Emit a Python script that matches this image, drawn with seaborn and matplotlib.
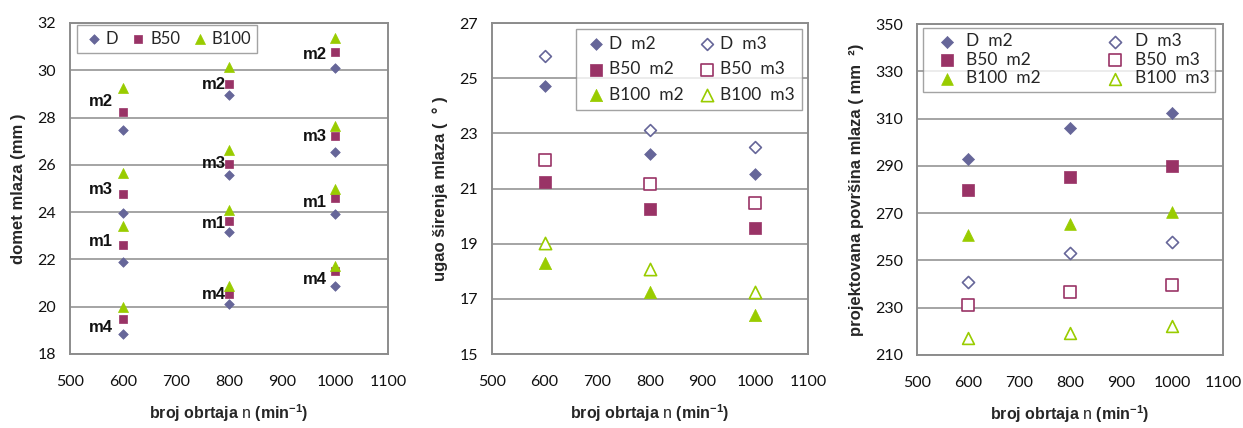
import numpy as np
import pandas as pd
import matplotlib
matplotlib.use("Agg")
import matplotlib.pyplot as plt
import seaborn as sns

# ---------------- data ----------------
n = [600, 800, 1000]
modes = ["m1", "m2", "m3", "m4"]

# domet mlaza (mm) for each mode at n = 600, 800, 1000
domet_D = {"m1": [21.9, 23.14, 23.92], "m2": [27.47, 28.95, 30.08],
           "m3": [23.95, 25.57, 26.53], "m4": [18.83, 20.13, 20.89]}
domet_B50 = {"m1": [22.6, 23.62, 24.58], "m2": [28.25, 29.43, 30.79],
             "m3": [24.75, 26.05, 27.23], "m4": [19.48, 20.52, 21.51]}
domet_B100 = {"m1": [23.42, 24.09, 25.0], "m2": [29.26, 30.12, 31.35],
              "m3": [25.64, 26.63, 27.64], "m4": [20.0, 20.87, 21.72]}
# mode-label text heights (mm) beside each group
label_y = {"m1": [22.74, 23.5, 24.39], "m2": [28.66, 29.38, 30.65],
           "m3": [24.94, 26.04, 27.18], "m4": [19.1, 20.5, 21.17]}

# ugao sirenja mlaza (deg)
ugao_D_m2 = [24.72, 22.24, 21.54]
ugao_D_m3 = [25.8, 23.12, 22.51]
ugao_B50_m2 = [21.23, 20.27, 19.56]
ugao_B50_m3 = [22.04, 21.15, 20.49]
ugao_B100_m2 = [18.29, 17.25, 16.4]
ugao_B100_m3 = [19.04, 18.07, 17.26]

# projektovana povrsina mlaza (mm2)
pov_D_m2 = [292.8, 305.9, 312.3]
pov_D_m3 = [240.7, 253.1, 257.8]
pov_B50_m2 = [279.9, 285.1, 290.0]
pov_B50_m3 = [231.3, 236.5, 239.5]
pov_B100_m2 = [260.9, 265.5, 270.3]
pov_B100_m3 = [217.2, 219.3, 222.1]

# ---------------- style ----------------
sns.set_theme(style="white")
plt.rcParams["font.family"] = ["Lato", "DejaVu Sans"]
plt.rcParams["mathtext.fontset"] = "custom"
plt.rcParams["mathtext.rm"] = "Liberation Sans"
plt.rcParams["mathtext.bf"] = "Liberation Sans:bold"

C_D = "#666699"
C_B50 = "#993366"
C_B100 = "#99CC00"
GRAY = "#8c8c8c"

fig = plt.figure(figsize=(12.43, 4.28), dpi=100)
axL = fig.add_axes([70 / 1243, 74 / 428, 318 / 1243, 331 / 428])
axM = fig.add_axes([492 / 1243, 74 / 428, 316 / 1243, 331 / 428])
axR = fig.add_axes([917 / 1243, 73 / 428, 306 / 1243, 331 / 428])

xlabel = r"broj obrtaja $\mathrm{n}$ (min$^{\mathbf{-1}}$)"


def style_axes(ax, ylim, yticks, ylabel):
    ax.set_xlim(500, 1100)
    ax.set_xticks([500, 600, 700, 800, 900, 1000, 1100])
    ax.set_ylim(*ylim)
    ax.set_yticks(yticks)
    ax.yaxis.grid(True, color=GRAY, lw=1.1)
    ax.xaxis.grid(False)
    ax.set_axisbelow(True)
    for s in ax.spines.values():
        s.set_color(GRAY)
        s.set_linewidth(1.4)
    ax.tick_params(axis="x", direction="in", length=4, color=GRAY, width=1,
                   labelsize=11.5, labelcolor="#111111", pad=15)
    ax.tick_params(axis="y", length=0, labelsize=11.5, labelcolor="#111111", pad=10)
    ax.set_xlabel(xlabel, fontsize=11.5, fontweight="bold", family="Liberation Sans",
                  labelpad=10)
    ax.set_ylabel(ylabel, fontsize=12, fontweight="bold", family="Liberation Sans",
                  labelpad=8)


def scat(ax, x, y, marker, color, s, label, filled=True):
    if filled:
        sns.scatterplot(x=x, y=y, ax=ax, marker=marker, s=s, color=color,
                        edgecolor=color, linewidth=0.5, label=label, zorder=3)
    else:
        sns.scatterplot(x=x, y=y, ax=ax, marker=marker, s=s, facecolor="white",
                        edgecolor=color, linewidth=1.2, label=label, zorder=3)


# ---------------- left panel ----------------
def flat(d):
    xs, ys = [], []
    for m in modes:
        xs += n
        ys += d[m]
    return xs, ys

xs, ys = flat(domet_D)
scat(axL, xs, ys, "D", C_D, 24, "D")
xs, ys = flat(domet_B50)
scat(axL, xs, ys, "s", C_B50, 38, "B50")
xs, ys = flat(domet_B100)
scat(axL, xs, ys, "^", C_B100, 52, "B100")

dx_px = {600: -10, 800: -3, 1000: -8}
for m in modes:
    for xi, yi in zip(n, label_y[m]):
        axL.annotate(m, xy=(xi, yi), xytext=(dx_px[xi], 0), textcoords="offset pixels",
                     ha="right", va="center", fontsize=12, fontweight="bold",
                     family="Liberation Sans", color="#111111")

style_axes(axL, (18, 32), np.arange(18, 33, 2), "domet mlaza (mm )")
legL = axL.legend(loc="upper left", bbox_to_anchor=(0.021, 0.994), ncol=3,
                  frameon=True, fancybox=False, borderaxespad=0, fontsize=12,
                  handletextpad=0.0, columnspacing=0.5, borderpad=0.35,
                  handlelength=1.4)
legL.get_frame().set_edgecolor(GRAY)
legL.get_frame().set_linewidth(1.0)

# ---------------- middle panel ----------------
scat(axM, n, ugao_D_m2, "D", C_D, 36, "D  m2")
scat(axM, n, ugao_B50_m2, "s", C_B50, 70, "B50  m2")
scat(axM, n, ugao_B100_m2, "^", C_B100, 78, "B100  m2")
scat(axM, n, ugao_D_m3, "D", C_D, 36, "D  m3", filled=False)
scat(axM, n, ugao_B50_m3, "s", C_B50, 70, "B50  m3", filled=False)
scat(axM, n, ugao_B100_m3, "^", C_B100, 78, "B100  m3", filled=False)
style_axes(axM, (15, 27), np.arange(15, 28, 2), "ugao širenja mlaza (  ° )")
legM = axM.legend(loc="upper right", bbox_to_anchor=(0.98, 0.982), ncol=2,
                  frameon=True, fancybox=False, borderaxespad=0, fontsize=12.5,
                  handletextpad=0.0, columnspacing=0.6, borderpad=0.4,
                  labelspacing=0.55, handlelength=1.5)
legM.get_frame().set_edgecolor(GRAY)
legM.get_frame().set_linewidth(1.0)

# ---------------- right panel ----------------
scat(axR, n, pov_D_m2, "D", C_D, 38, "D  m2")
scat(axR, n, pov_B50_m2, "s", C_B50, 75, "B50  m2")
scat(axR, n, pov_B100_m2, "^", C_B100, 72, "B100  m2")
scat(axR, n, pov_D_m3, "D", C_D, 38, "D  m3", filled=False)
scat(axR, n, pov_B50_m3, "s", C_B50, 75, "B50  m3", filled=False)
scat(axR, n, pov_B100_m3, "^", C_B100, 72, "B100  m3", filled=False)
style_axes(axR, (210, 350), np.arange(210, 351, 20), "projektovana površina mlaza ( mm  ²)")
legR = axR.legend(loc="upper left", bbox_to_anchor=(0.019, 0.988), ncol=2,
                  frameon=True, fancybox=False, borderaxespad=0, fontsize=12.5,
                  handletextpad=0.0, columnspacing=3.2, borderpad=0.3,
                  labelspacing=0.15, handlelength=2.2)
legR.get_frame().set_edgecolor(GRAY)
legR.get_frame().set_linewidth(1.0)

fig.savefig("out.png", dpi=100)
